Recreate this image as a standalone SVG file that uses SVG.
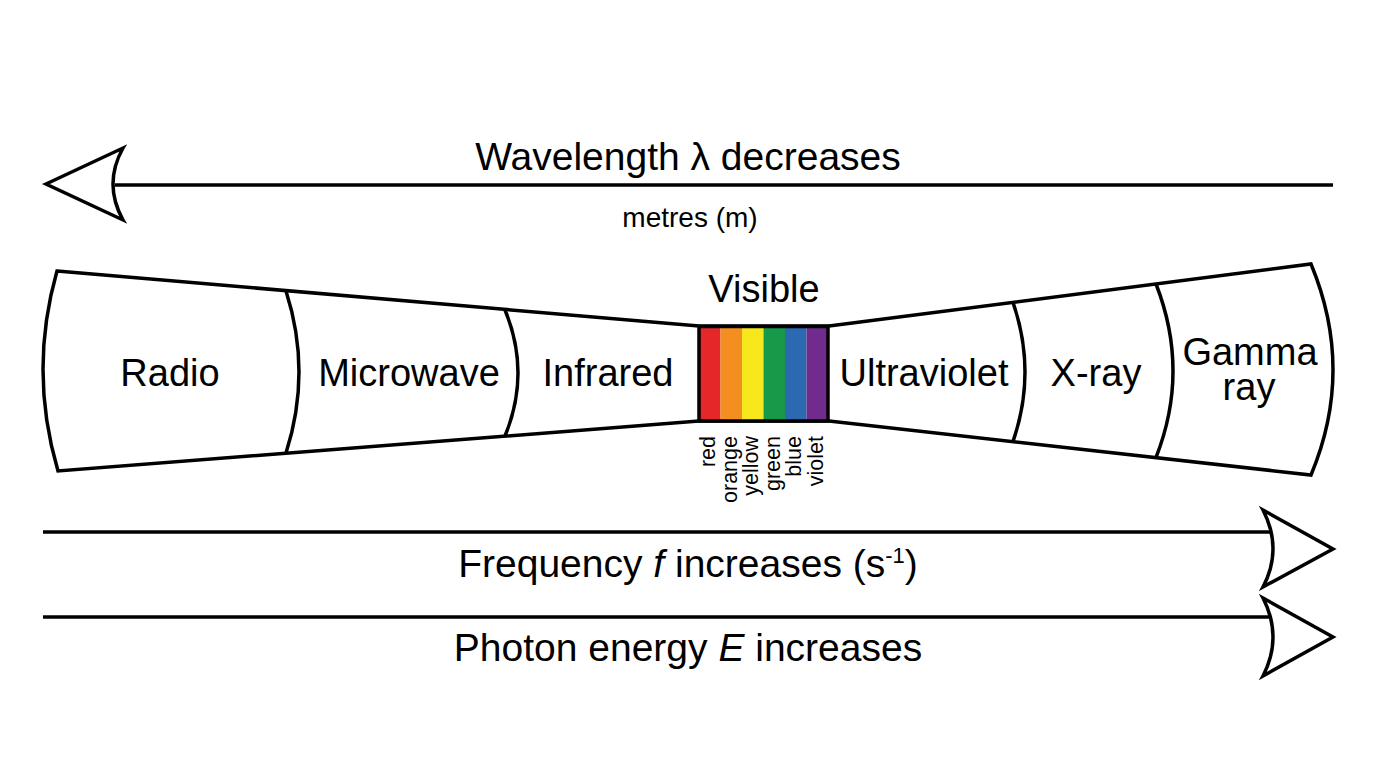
<svg xmlns="http://www.w3.org/2000/svg" width="1376" height="768" viewBox="0 0 1376 768">
<style>
.ln{fill:none;stroke:#000;stroke-width:3.5;stroke-linejoin:miter}
.hd{fill:#fff;stroke:#000;stroke-width:3.5;stroke-linejoin:miter}
.t{font-family:"Liberation Sans",Arial,Helvetica,sans-serif;fill:#000;text-anchor:middle}
.big{font-size:38px}
.ax{font-size:39px}
.sm{font-size:28px}
.col{font-size:21.5px;text-anchor:end}
</style>
<rect width="1376" height="768" fill="#fff"/>
<g id="connectors">
  <g id="wavelength-arrow">
    <line class="ln" x1="115" y1="185" x2="1333" y2="185"/>
    <path class="hd" d="M46,184 L123,148 Q103,184 123,220 Z"/>
  </g>
  <g id="frequency-arrow">
    <line class="ln" x1="43" y1="532" x2="1272" y2="532"/>
    <path class="hd" d="M1263,510 L1333,549 L1263,587 Q1283,549 1263,510 Z"/>
  </g>
  <g id="energy-arrow">
    <line class="ln" x1="43" y1="617" x2="1272" y2="617"/>
    <path class="hd" d="M1263,598 L1333,637 L1263,676 Q1283,637 1263,598 Z"/>
  </g>
</g>
<g id="labels">
  <text class="t ax" x="688" y="170">Wavelength λ decreases</text>
  <text class="t sm" x="690" y="227">metres (m)</text>
  <text class="t ax" x="688" y="577">Frequency <tspan font-style="italic">f</tspan> increases (s<tspan font-size="22" dy="-14">-1</tspan><tspan dy="14">)</tspan></text>
  <text class="t ax" x="688" y="661">Photon energy <tspan font-style="italic">E</tspan> increases</text>
</g>
<g id="spectrum">
  <path class="hd" d="M57,271 L699,326 L829,326 L1311,264 Q1355,370 1311,475 L829,421 L699,421 L58,471 Q28.5,371 57,271 Z"/>
  <g id="radio"><text class="t big" x="170" y="386">Radio</text></g>
  <g id="microwave">
    <path class="ln" d="M286,291 Q312,372 286,453"/>
    <text class="t big" x="409" y="386">Microwave</text>
  </g>
  <g id="infrared">
    <path class="ln" d="M505,310 Q531,373 505,436"/>
    <text class="t big" x="608" y="386">Infrared</text>
  </g>
  <g id="visible">
    <text class="t big" x="764" y="302">Visible</text>
    <rect x="699" y="327" width="21.5" height="94" fill="#E42728"/>
    <rect x="720.5" y="327" width="21.5" height="94" fill="#F48E20"/>
    <rect x="742" y="327" width="21.5" height="94" fill="#F7E81E"/>
    <rect x="763.5" y="327" width="21.5" height="94" fill="#17994A"/>
    <rect x="785" y="327" width="21.5" height="94" fill="#2B69B0"/>
    <rect x="806.5" y="327" width="21.5" height="94" fill="#712B8D"/>
    <rect class="ln" x="699" y="326.5" width="129" height="94.5"/>
    <text class="t col" transform="translate(715,436) rotate(-90)">red</text>
    <text class="t col" transform="translate(736.5,436) rotate(-90)">orange</text>
    <text class="t col" transform="translate(758,436) rotate(-90)">yellow</text>
    <text class="t col" transform="translate(779.5,436) rotate(-90)">green</text>
    <text class="t col" transform="translate(801,436) rotate(-90)">blue</text>
    <text class="t col" transform="translate(822.5,436) rotate(-90)">violet</text>
  </g>
  <g id="ultraviolet"><text class="t big" x="924" y="386">Ultraviolet</text></g>
  <g id="x-ray">
    <path class="ln" d="M1013,302.5 Q1037,372 1013,441.5"/>
    <text class="t big" x="1096" y="386">X-ray</text>
  </g>
  <g id="gamma-ray">
    <path class="ln" d="M1156,284 Q1190,371 1156,457.5"/>
    <text class="t big" x="1250" y="365">Gamma</text>
    <text class="t big" x="1249" y="400">ray</text>
  </g>
</g>
</svg>
